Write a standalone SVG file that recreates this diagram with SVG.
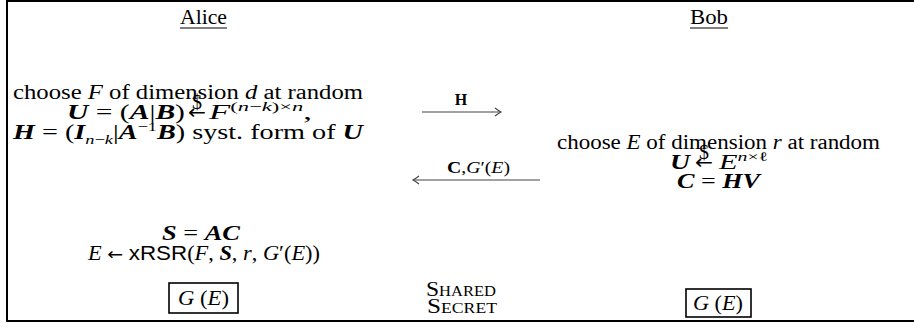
<svg xmlns="http://www.w3.org/2000/svg" width="914" height="327" viewBox="0 0 914 327">
<defs>
<style>
.t{font-family:"Liberation Serif","DejaVu Serif",serif;font-size:20px;fill:#000}
.i{font-style:italic}
.b{font-weight:bold;font-style:italic}
.bu{font-weight:bold}
.sf{font-family:"Liberation Sans","DejaVu Sans",sans-serif}
.ar{font-family:"DejaVu Sans",sans-serif;font-style:normal;font-weight:normal}
.lbl{font-size:16px}
.sc{font-variant:small-caps}
.frame{stroke:#000;stroke-width:2;fill:none}
.box{stroke:#000;stroke-width:1.6;fill:none}
.arr{stroke:#444;stroke-width:1.1;fill:none}
.ul{stroke:#000;stroke-width:1}
</style>
</defs>
<g id="frame">
<line class="frame" x1="7" y1="0" x2="7" y2="322"/>
<line class="frame" x1="6" y1="1" x2="914" y2="1"/>
<line class="frame" x1="6" y1="321" x2="914" y2="321"/>
</g>
<g id="alice">
<text class="t" x="180" y="24" textLength="47" lengthAdjust="spacingAndGlyphs">Alice</text>
<line class="ul" x1="180" y1="28" x2="227" y2="28"/>
<text class="t" x="13" y="99" textLength="350" lengthAdjust="spacingAndGlyphs">choose <tspan class="i">F</tspan> of dimension <tspan class="i">d</tspan> at random</text>
<text class="t" x="67" y="119" textLength="118" lengthAdjust="spacingAndGlyphs"><tspan class="b">U</tspan> = (<tspan class="b">A</tspan>|<tspan class="b">B</tspan>)</text>
<text class="t ar" x="188" y="119" textLength="18" lengthAdjust="spacingAndGlyphs" font-size="18">←</text>
<text class="t" x="197" y="109" text-anchor="middle" font-size="9">$</text>
<text class="t" x="209" y="119" textLength="103" lengthAdjust="spacingAndGlyphs"><tspan class="i">F</tspan><tspan dy="-8" font-size="13">(<tspan class="i">n</tspan>−<tspan class="i">k</tspan>)×<tspan class="i">n</tspan></tspan><tspan dy="8">,</tspan></text>
<text class="t" x="13" y="139" textLength="350" lengthAdjust="spacingAndGlyphs"><tspan class="b">H</tspan> = (<tspan class="b">I</tspan><tspan dy="5" font-size="13"><tspan class="i">n</tspan>−<tspan class="i">k</tspan></tspan><tspan dy="-5">|</tspan><tspan class="b">A</tspan><tspan dy="-8" font-size="13">−1</tspan><tspan dy="8" class="b">B</tspan>) syst. form of <tspan class="b">U</tspan></text>
<text class="t" x="162" y="240" textLength="78" lengthAdjust="spacingAndGlyphs"><tspan class="b">S</tspan> = <tspan class="b">AC</tspan></text>
<text class="t" x="88" y="260" textLength="232" lengthAdjust="spacingAndGlyphs"><tspan class="i">E</tspan> <tspan class="ar" font-size="17">←</tspan> <tspan class="sf">xRSR</tspan>(<tspan class="i">F</tspan>, <tspan class="b">S</tspan>, <tspan class="i">r</tspan>, <tspan class="i">G</tspan>′(<tspan class="i">E</tspan>))</text>
</g>
<g id="alice-key">
<rect class="box" x="169" y="283" width="69" height="30"/>
<text class="t" x="178" y="305" textLength="51" lengthAdjust="spacingAndGlyphs"><tspan class="i">G</tspan> (<tspan class="i">E</tspan>)</text>
</g>
<g id="bob">
<text class="t" x="690" y="24" textLength="38" lengthAdjust="spacingAndGlyphs">Bob</text>
<line class="ul" x1="690" y1="28" x2="728" y2="28"/>
<text class="t" x="557" y="149" textLength="323" lengthAdjust="spacingAndGlyphs">choose <tspan class="i">E</tspan> of dimension <tspan class="i">r</tspan> at random</text>
<text class="t b" x="670" y="169" textLength="20" lengthAdjust="spacingAndGlyphs">U</text>
<text class="t ar" x="695" y="169" textLength="18" lengthAdjust="spacingAndGlyphs" font-size="18">←</text>
<text class="t" x="704" y="159" text-anchor="middle" font-size="9">$</text>
<text class="t" x="719" y="169" textLength="49" lengthAdjust="spacingAndGlyphs"><tspan class="i">E</tspan><tspan dy="-8" font-size="13"><tspan class="i">n</tspan>×ℓ</tspan></text>
<text class="t" x="677" y="188" textLength="83" lengthAdjust="spacingAndGlyphs"><tspan class="b">C</tspan> = <tspan class="b">HV</tspan></text>
</g>
<g id="bob-key">
<rect class="box" x="686" y="289" width="65" height="28"/>
<text class="t" x="693" y="310" textLength="50" lengthAdjust="spacingAndGlyphs"><tspan class="i">G</tspan> (<tspan class="i">E</tspan>)</text>
</g>
<g id="shared">
<text class="t sc" x="426" y="296" textLength="70" lengthAdjust="spacingAndGlyphs" font-size="19">Shared</text>
<text class="t sc" x="427" y="313" textLength="70" lengthAdjust="spacingAndGlyphs" font-size="19">Secret</text>
</g>
<g id="connectors">
<line class="arr" x1="422" y1="112" x2="501" y2="112"/>
<path class="arr" d="M495,108 Q499,111 501,112 Q499,113 495,116"/>
<text class="t lbl bu" x="461" y="105" text-anchor="middle">H</text>
<line class="arr" x1="413" y1="180" x2="540" y2="180"/>
<path class="arr" d="M419,176 Q415,179 413,180 Q415,181 419,184"/>
<text class="t lbl" x="447" y="173" textLength="63" lengthAdjust="spacingAndGlyphs"><tspan class="bu">C</tspan>,<tspan class="i">G</tspan>′(<tspan class="i">E</tspan>)</text>
</g>
</svg>
